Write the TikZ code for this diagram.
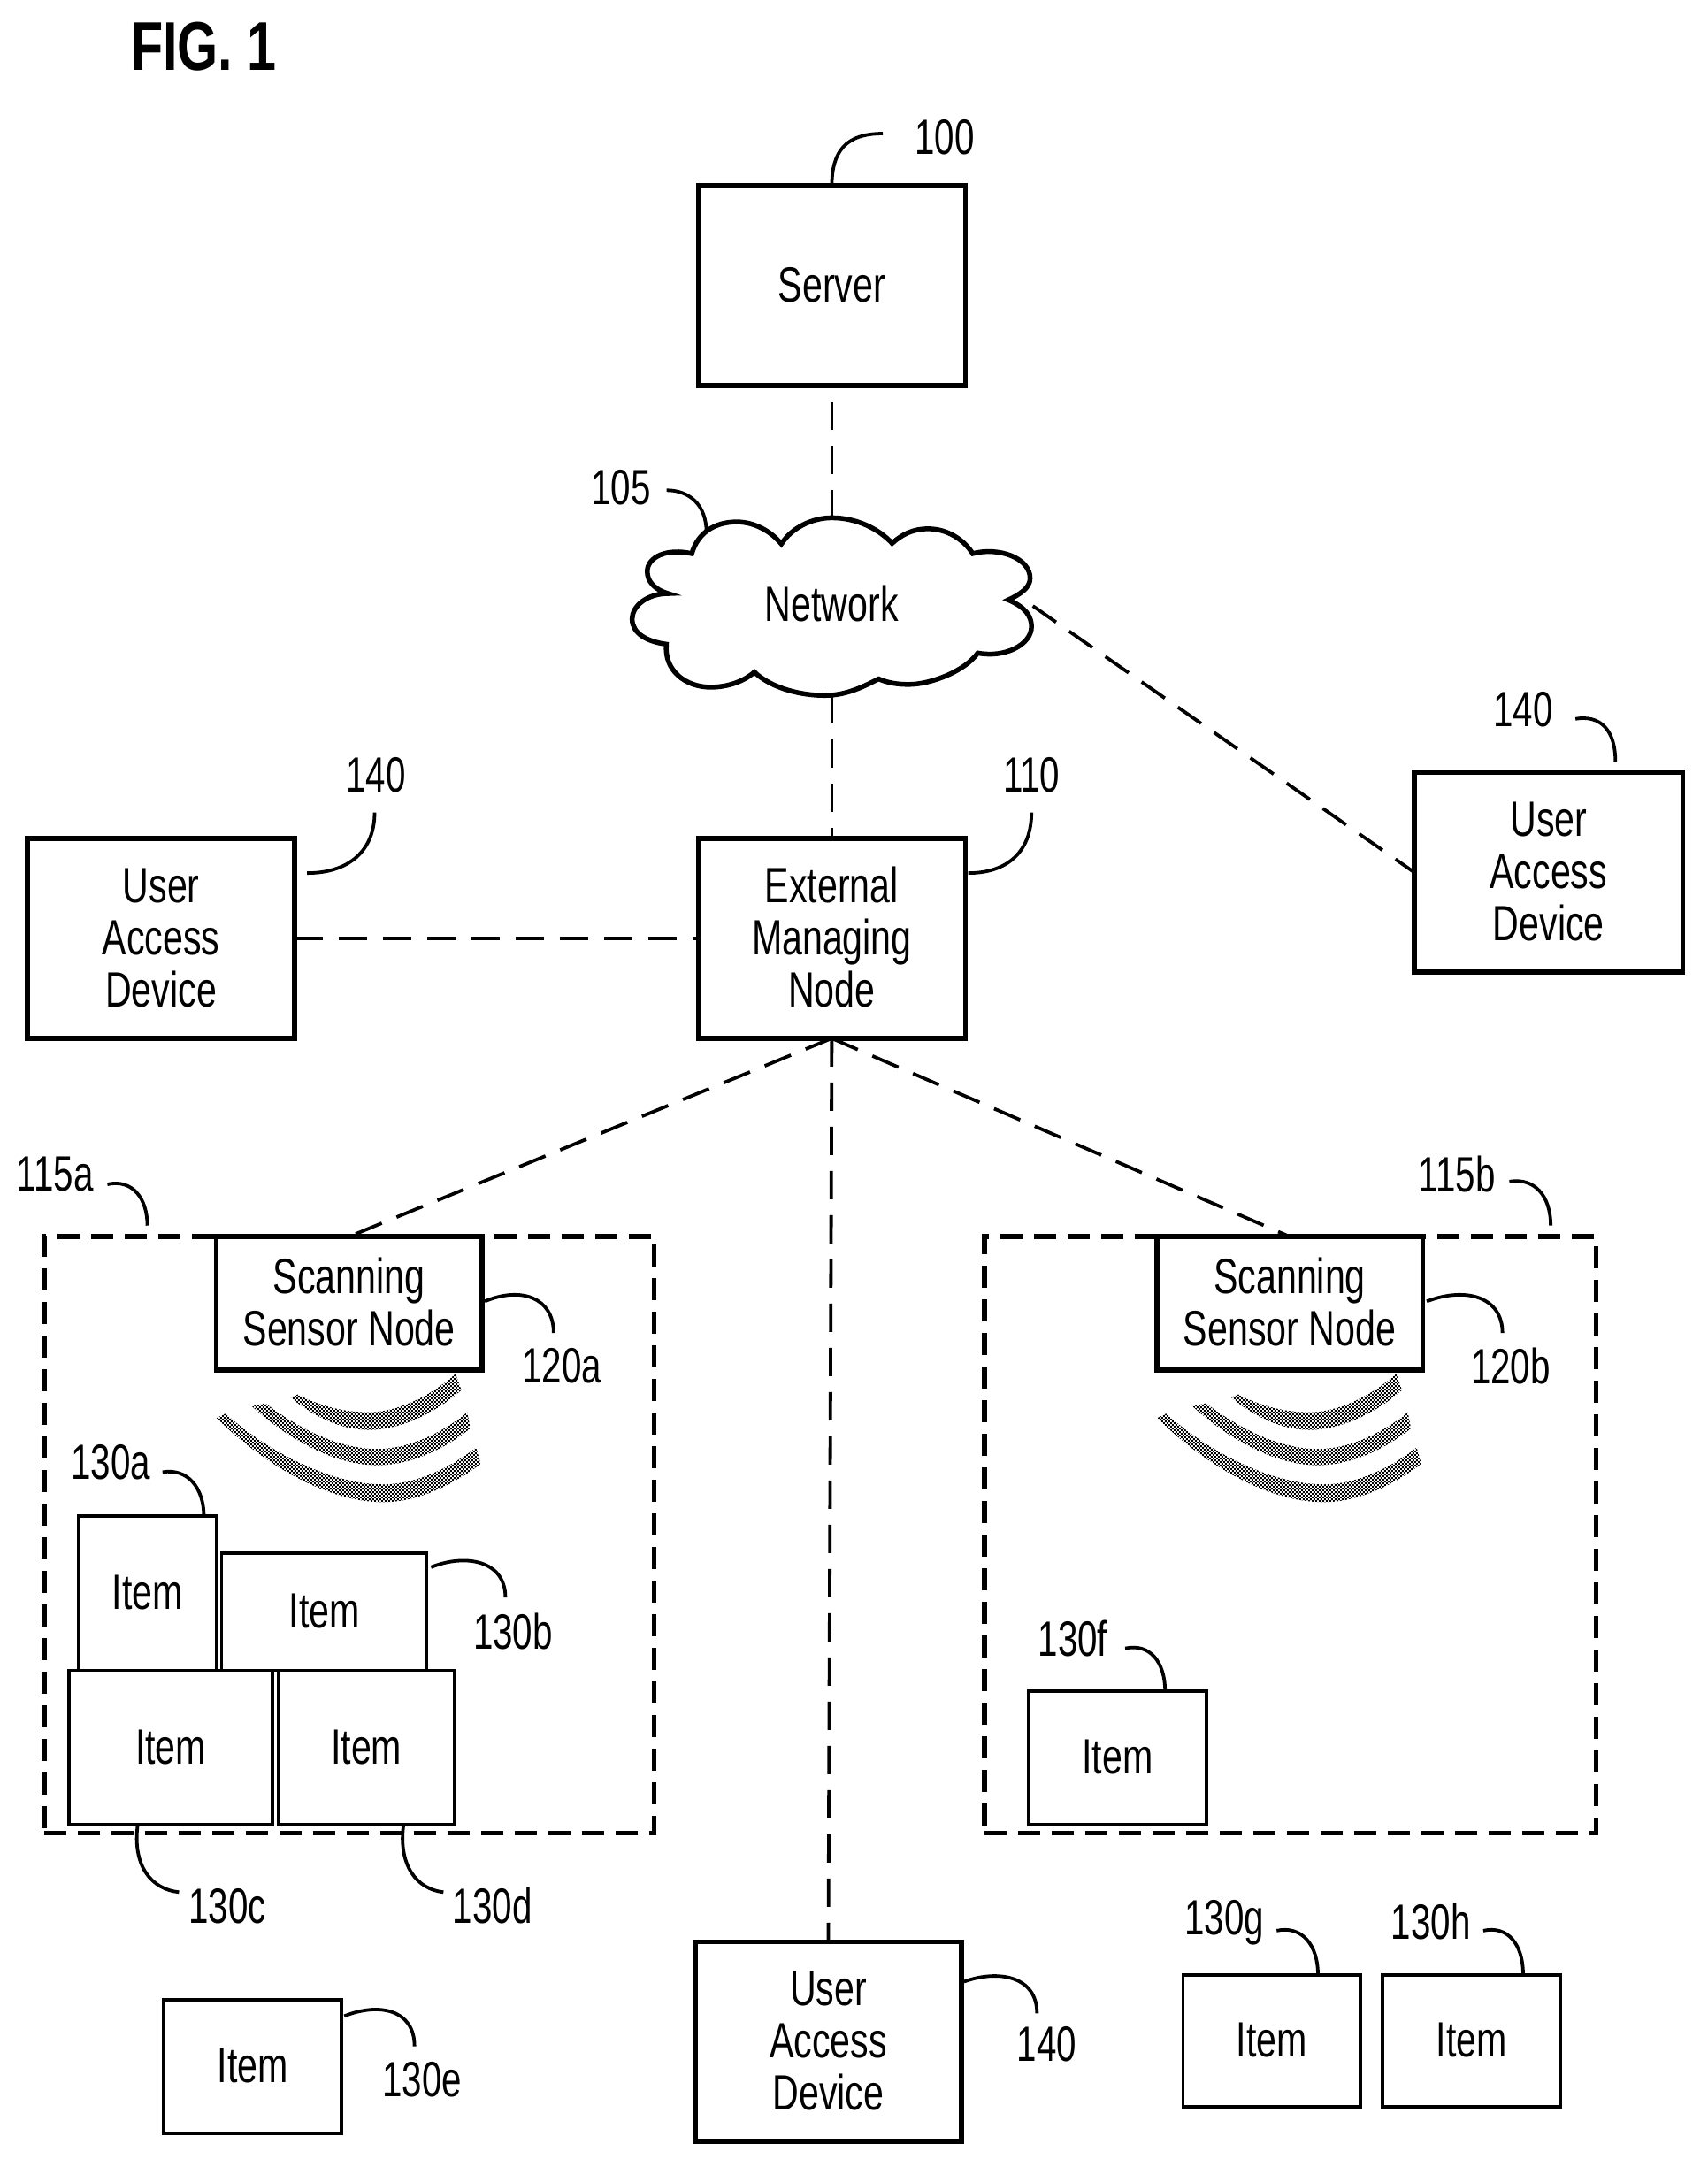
\documentclass[tikz,border=0pt]{standalone}
\usepackage{fontspec}
\usetikzlibrary{patterns}
\newfontfamily\nf[FakeStretch=0.735]{Liberation Sans}
\newfontfamily\nfn[FakeStretch=0.72]{Liberation Sans}
\newfontfamily\figf[FakeStretch=0.76]{Liberation Sans}
\pgfdeclarepatternformonly{finecheck}{\pgfqpoint{0pt}{0pt}}{\pgfqpoint{4pt}{4pt}}{\pgfqpoint{4pt}{4pt}}{%
  \pgfpathrectangle{\pgfqpoint{0pt}{0pt}}{\pgfqpoint{2pt}{2pt}}%
  \pgfpathrectangle{\pgfqpoint{2pt}{2pt}}{\pgfqpoint{2pt}{2pt}}%
  \pgfusepath{fill}}
\tikzset{
  lab/.style={font=\nf\fontsize{56}{59}\selectfont, inner sep=0pt, outer sep=0pt},
  numlab/.style={font=\nfn\fontsize{56}{59}\selectfont, inner sep=0pt, outer sep=0pt},
  bigbox/.style={lab, draw=black, line width=5.5pt, fill=white},
  itembox/.style={lab, draw=black, line width=3.6pt, fill=white},
  zone/.style={draw=black, line width=5.5pt, dash pattern=on 25pt off 13pt, inner sep=0pt, outer sep=0pt},
  link/.style={draw=black, line width=3.8pt, dash pattern=on 32pt off 18pt},
  lead/.style={draw=black, line width=3.8pt},
  cloudline/.style={draw=black, line width=5.5pt, fill=white, line join=miter},
  wave/.style={pattern=finecheck, pattern color=black}
}
\newcommand{\bxn}[7]{\node[#2, minimum width={(#5-#3)*1.557pt}, minimum height={(#6-#4)*1.557pt}] (#1) at ({(#3+#5)/2},{(#4+#6)/2}) {\raisebox{-6.7pt}[\height][\depth]{\begin{tabular}{@{}c@{}}#7\end{tabular}}};}
\begin{document}
\begin{tikzpicture}[x=1.557pt,y=-1.557pt]
\useasboundingbox (0,0) rectangle (1240.2,1567.8);
% zones
\node[zone, minimum width={443*1.557pt}, minimum height={433*1.557pt}] (zoneA) at (253.5,1114.5) {};
\node[zone, minimum width={444*1.557pt}, minimum height={433*1.557pt}] (zoneB) at (937,1114.5) {};
% main boxes
\bxn{server}{bigbox}{507}{135}{701}{280}{Server}
\bxn{ext}{bigbox}{507}{609}{701}{754}{External\\Managing\\Node}
\bxn{userL}{bigbox}{20}{609}{214}{754}{User\\Access\\Device}
\bxn{userR}{bigbox}{1027}{561}{1222}{706}{User\\Access\\Device}
\bxn{userB}{bigbox}{505}{1410}{698}{1555}{User\\Access\\Device}
% cloud
\draw[cloudline] (502.3,402)
 .. controls (507,386) and (520,379) .. (535,379)
 .. controls (548,379) and (560,386) .. (567.4,395)
 .. controls (575,383) and (590,376) .. (604,376)
 .. controls (622,376) and (638,384) .. (647.8,394.5)
 .. controls (655,388) and (663,384) .. (674,384)
 .. controls (688,384) and (700,392) .. (706.3,402)
 .. controls (725,397) and (748,405) .. (748,420)
 .. controls (748,427) and (740,432) .. (732.1,435.6)
 .. controls (745,441) and (749,448) .. (749,455)
 .. controls (749,468) and (730,478) .. (710,474.2)
 .. controls (700,488) and (675,497) .. (660,497)
 .. controls (652,497) and (645,496) .. (638,493)
 .. controls (628,498) and (615,505) .. (599,505)
 .. controls (578,505) and (558,498) .. (547.8,488)
 .. controls (540,495) and (528,499) .. (516,499)
 .. controls (498,499) and (482,487) .. (483.9,467.8)
 .. controls (470,466) and (459,460) .. (459,449.5)
 .. controls (459,440) and (470,431) .. (485.1,431)
 .. controls (475,428) and (470,422) .. (470,415)
 .. controls (470,404) and (485,398) .. (502.3,402) -- cycle;
\node[lab] (network) at (604,438.5) {Network};
\coordinate (cloudT) at (604,376);
\coordinate (cloudB) at (604,505);
\coordinate (cloudR) at (750,440);
% scanning nodes
\bxn{scanA}{bigbox}{157}{898}{350}{995}{Scanning\\Sensor Node}
\bxn{scanB}{bigbox}{840}{898}{1033}{995}{Scanning\\Sensor Node}
% connectors
\draw[link, dash phase=32pt] (server.south) -- (cloudT);
\draw[link] (cloudB) -- (ext.north);
\draw[link] (cloudR) -- (userR.west);
\draw[link] (userL.east) -- (ext.west);
\draw[link] (ext.south) -- (scanA.north);
\draw[link] (ext.south) -- (scanB.north);
\draw[link] (ext.south) -- (userB.north);
% waves
\foreach \dx in {0,683}{
\begin{scope}[shift={(\dx,0)}]
\fill[wave] (216.2,1012.6) .. controls (232,1021) and (250,1025.5) .. (267.6,1025.5)
  .. controls (290,1025.5) and (315,1012) .. (330.8,997.6) -- (335,1009.4)
  .. controls (315,1027) and (290,1038.3) .. (267.6,1038.3)
  .. controls (248,1038.3) and (228,1029) .. (210.9,1014.7) -- cycle;
\fill[wave] (192.7,1019) .. controls (215,1036) and (245,1052.2) .. (274,1052.2)
  .. controls (297,1052.2) and (322,1040) .. (339.3,1025.5) -- (341.5,1037.2)
  .. controls (322,1053) and (297,1064) .. (274,1064)
  .. controls (242,1064) and (208,1044) .. (183,1021.2) -- cycle;
\fill[wave] (163.8,1026.5) .. controls (192,1052) and (238,1077.9) .. (278.3,1077.9)
  .. controls (303,1077.9) and (328,1065) .. (345.7,1051.1) -- (349,1062.9)
  .. controls (330,1078) and (303,1090.8) .. (278.3,1090.8)
  .. controls (235,1090.8) and (188,1060) .. (157.3,1029.7) -- cycle;
\end{scope}
}
% items
\bxn{itemA}{itembox}{57}{1101}{157}{1213}{Item}
\bxn{itemB}{itembox}{161}{1128}{310}{1213}{Item}
\bxn{itemC}{itembox}{50}{1213}{198}{1325}{Item}
\bxn{itemD}{itembox}{202}{1213}{330}{1325}{Item}
\bxn{itemE}{itembox}{119}{1452}{248}{1549}{Item}
\bxn{itemF}{itembox}{747}{1228}{876}{1325}{Item}
\bxn{itemG}{itembox}{859}{1434}{988}{1530}{Item}
\bxn{itemH}{itembox}{1004}{1434}{1133}{1530}{Item}
% reference labels
\node[numlab] (t100) at (686,100) {100};
\node[numlab] (t105) at (451,354) {105};
\node[numlab] (t110) at (749,563) {110};
\node[numlab] (t140l) at (273,563) {140};
\node[numlab] (t140r) at (1106,515) {140};
\node[numlab] (t140b) at (760,1484.5) {140};
\node[numlab] (t115a) at (40,852.5) {115a};
\node[numlab] (t115b) at (1058,852.5) {115b};
\node[numlab] (t120a) at (408,992) {120a};
\node[numlab] (t120b) at (1097,992) {120b};
\node[numlab] (t130a) at (80.5,1062) {130a};
\node[numlab] (t130b) at (372.5,1184.5) {130b};
\node[numlab] (t130c) at (165,1384) {130c};
\node[numlab] (t130d) at (357.5,1384) {130d};
\node[numlab] (t130e) at (306.5,1510) {130e};
\node[numlab] (t130f) at (779,1189.5) {130f};
\node[numlab] (t130g) at (889,1396) {130g};
\node[numlab] (t130h) at (1039,1395) {130h};
\node[inner sep=0pt, font=\figf\bfseries\fontsize{78}{78}\selectfont] (fig) at (148,33.5) {FIG. 1};
% leader lines
\coordinate (e100) at (641,97);
\draw[lead] (server.north) .. controls (604,110) and (614,97) .. (e100);
\coordinate (e105) at (484,356);
\coordinate (s105) at (513,387);
\draw[lead] (e105) .. controls (500,356) and (513,366) .. (s105);
\coordinate (s110) at (703,634);
\coordinate (e110) at (749,590);
\draw[lead] (s110) .. controls (732,634) and (749,618) .. (e110);
\coordinate (s140l) at (223,634);
\coordinate (e140l) at (272,590);
\draw[lead] (s140l) .. controls (253,634) and (272,618) .. (e140l);
\coordinate (e140r) at (1144,522);
\coordinate (s140r) at (1173,553);
\draw[lead] (e140r) .. controls (1162,519) and (1173,530) .. (s140r);
\coordinate (s140b) at (700,1439);
\coordinate (e140b) at (753,1462);
\draw[lead] (s140b) .. controls (725,1430) and (753,1435) .. (e140b);
\coordinate (e115a) at (78,860);
\coordinate (s115a) at (107,890);
\draw[lead] (e115a) .. controls (96,856) and (107,870) .. (s115a);
\coordinate (e115b) at (1096,858);
\coordinate (s115b) at (1126,890);
\draw[lead] (e115b) .. controls (1114,855) and (1126,868) .. (s115b);
\coordinate (s120a) at (352,945);
\coordinate (e120a) at (402,968);
\draw[lead] (s120a) .. controls (378,934) and (402,942) .. (e120a);
\coordinate (s120b) at (1036,945);
\coordinate (e120b) at (1091,968);
\draw[lead] (s120b) .. controls (1065,934) and (1091,942) .. (e120b);
\coordinate (e130a) at (118,1069);
\coordinate (s130a) at (148,1101);
\draw[lead] (e130a) .. controls (136,1066) and (148,1080) .. (s130a);
\coordinate (s130b) at (313,1138);
\coordinate (e130b) at (367,1160);
\draw[lead] (s130b) .. controls (338,1128) and (367,1133) .. (e130b);
\coordinate (s130c) at (100,1325);
\coordinate (e130c) at (130,1374);
\draw[lead] (s130c) .. controls (96,1355) and (110,1372) .. (e130c);
\coordinate (s130d) at (293,1325);
\coordinate (e130d) at (322,1374);
\draw[lead] (s130d) .. controls (289,1355) and (303,1372) .. (e130d);
\coordinate (s130e) at (250,1464);
\coordinate (e130e) at (301,1486);
\draw[lead] (s130e) .. controls (275,1454) and (301,1459) .. (e130e);
\coordinate (e130f) at (817,1197);
\coordinate (s130f) at (846,1228);
\draw[lead] (e130f) .. controls (835,1193) and (846,1207) .. (s130f);
\coordinate (e130g) at (927,1402);
\coordinate (s130g) at (957,1434);
\draw[lead] (e130g) .. controls (945,1398) and (957,1412) .. (s130g);
\coordinate (e130h) at (1077,1402);
\coordinate (s130h) at (1106,1434);
\draw[lead] (e130h) .. controls (1095,1398) and (1106,1412) .. (s130h);
\end{tikzpicture}
\end{document}
